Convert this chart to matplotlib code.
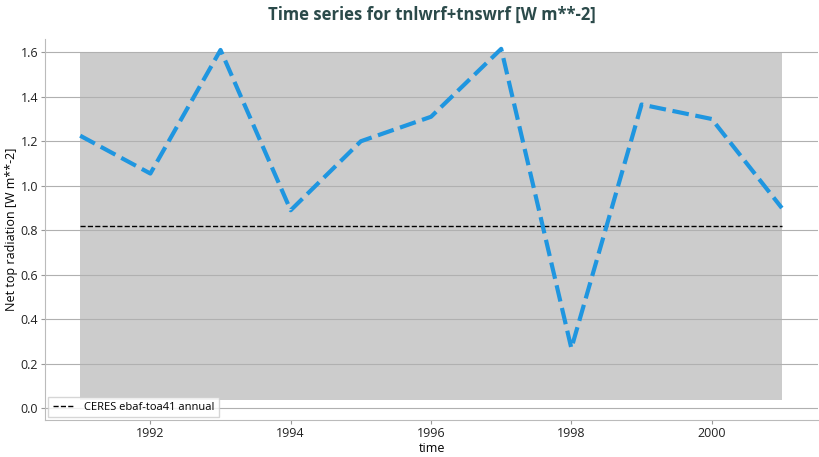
import matplotlib
matplotlib.use("Agg")
import matplotlib.pyplot as plt

years = [1991, 1992, 1993, 1994, 1995, 1996, 1997, 1998, 1999, 2000, 2001]
values = [1.225, 1.055, 1.61, 0.89, 1.20, 1.31, 1.615, 0.27, 1.365, 1.30, 0.90]
ref_value = 0.82
band_low, band_high = 0.04, 1.60
yticks = [0.0, 0.2, 0.4, 0.6, 0.8, 1.0, 1.2, 1.4, 1.6]
xticks = [1992, 1994, 1996, 1998, 2000]

plt.rcParams['font.family'] = ['Open Sans', 'DejaVu Sans']
fig = plt.figure(figsize=(8.2, 4.57), dpi=100)
ax = fig.add_axes([0.055, 0.08, 0.943, 0.835])
ax.fill_between([years[0], years[-1]], band_low, band_high, color='#cccccc', zorder=1, linewidth=0)
for t in yticks:
    ax.axhline(t, color='#b0b0b0', lw=0.8, zorder=1.5)
ax.plot(years, values, color='#1f96e0', lw=3, ls=(0, (4, 1.6)), zorder=3)
ax.axhline(ref_value, xmin=(years[0]-1990.5)/11.02, xmax=(years[-1]-1990.5)/11.02,
           color='black', ls='--', lw=1, zorder=2, label='CERES ebaf-toa41 annual')
ax.set_xlim(1990.5, 2001.52)
ax.set_ylim(-0.054, 1.66)
ax.set_yticks(yticks)
ax.set_xticks(xticks)
ax.tick_params(labelsize=9, colors='#222222', length=3, pad=2, color='#999999')
for s in ['top', 'right']:
    ax.spines[s].set_visible(False)
for s in ['left', 'bottom']:
    ax.spines[s].set_color('#bbbbbb')
ax.set_xlabel('time', fontsize=9, labelpad=1)
ax.set_ylabel('Net top radiation [W m**-2]', fontsize=9, labelpad=2)
ax.set_title('Time series for tnlwrf+tnswrf [W m**-2]', fontsize=12, fontweight='bold',
             color='#2b4a4a', pad=14)
ax.legend(loc='lower left', fontsize=8, frameon=True, fancybox=False, borderaxespad=0.3)
fig.savefig('out.png', dpi=100)
